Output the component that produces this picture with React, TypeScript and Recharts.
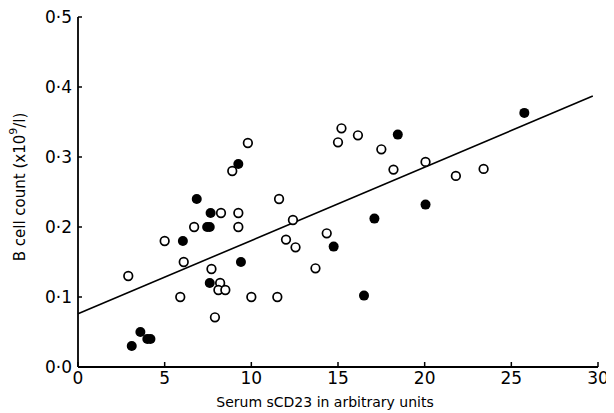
import { ComposedChart, Scatter, XAxis, YAxis, ReferenceLine } from "recharts";

// serum sCD23 (x) and B cell count (y), open circles
const openSCD23 = [2.9, 5.0, 6.1, 5.9, 6.7, 8.25, 9.25, 9.25, 8.9, 9.8, 7.7, 8.2, 8.1, 8.5, 7.9, 10.0, 11.5, 11.6, 12.4, 12.0, 12.55, 13.7, 14.35, 15.2, 15.0, 16.15, 17.5, 18.2, 20.05, 21.8, 23.4];
const openBCell = [0.13, 0.18, 0.15, 0.1, 0.2, 0.22, 0.22, 0.2, 0.28, 0.32, 0.14, 0.12, 0.11, 0.11, 0.071, 0.1, 0.1, 0.24, 0.21, 0.182, 0.171, 0.141, 0.191, 0.341, 0.321, 0.331, 0.311, 0.282, 0.293, 0.273, 0.283];

// filled circles
const filledSCD23 = [3.1, 3.6, 4.0, 4.18, 6.05, 6.85, 7.65, 7.45, 7.6, 9.25, 9.4, 7.6, 14.75, 17.1, 16.5, 18.45, 20.05, 25.75];
const filledBCell = [0.03, 0.05, 0.04, 0.04, 0.18, 0.24, 0.22, 0.2, 0.2, 0.29, 0.15, 0.12, 0.172, 0.212, 0.102, 0.332, 0.232, 0.363];

// regression line end points
const fitX = [0, 29.7];
const fitY = [0.076, 0.387];

const xTicks = [0, 5, 10, 15, 20, 25, 30];
const yTicks = [0, 0.1, 0.2, 0.3, 0.4, 0.5];

const openData = openSCD23.map((x, i) => ({ x, y: openBCell[i] }));
const filledData = filledSCD23.map((x, i) => ({ x, y: filledBCell[i] }));

const font = "DejaVu Sans";

const XTick = (props: any) => {
  const { x, y, payload } = props;
  return (
    <g>
      <line x1={x} y1={y} x2={x} y2={y - 5} stroke="#000" strokeWidth={1.5} />
      <text x={x} y={y + 17} textAnchor="middle" fontFamily={font} fontSize={17} fill="#000">
        {payload.value}
      </text>
    </g>
  );
};

const YTick = (props: any) => {
  const { x, y, payload } = props;
  return (
    <g>
      <line x1={x} y1={y} x2={x + 4} y2={y} stroke="#000" strokeWidth={1.5} />
      <text x={x - 6} y={y + 6} textAnchor="end" fontFamily={font} fontSize={17} fill="#000">
        {Number(payload.value).toFixed(1).replace(".", "·")}
      </text>
    </g>
  );
};

const OpenDot = (props: any) => (
  <circle cx={props.cx} cy={props.cy} r={4.3} fill="#fff" stroke="#000" strokeWidth={1.7} />
);
const FilledDot = (props: any) => (
  <circle cx={props.cx} cy={props.cy} r={5} fill="#000" />
);

export default function App() {
  return (
    <ComposedChart width={606} height={405} margin={{ top: 9, right: 16, bottom: 0, left: 0 }}>
      <XAxis
        type="number"
        dataKey="x"
        domain={[0, 30]}
        ticks={xTicks}
        height={46}
        tickSize={0}
        tickMargin={0}
        tickLine={false}
        tick={<XTick />}
        axisLine={{ stroke: "#000", strokeWidth: 1.8 }}
        label={{
          content: () => (
            <text x={317} y={399} textAnchor="middle" fontFamily={font} fontSize={14} fill="#000">
              Serum sCD23 in arbitrary units
            </text>
          ),
        }}
      />
      <YAxis
        type="number"
        dataKey="y"
        domain={[0, 0.5]}
        ticks={yTicks}
        width={70}
        tickSize={0}
        tickMargin={0}
        tickLine={false}
        tick={<YTick />}
        axisLine={{ stroke: "#000", strokeWidth: 1.8 }}
        label={{
          content: () => (
            <text
              x={12}
              y={179}
              transform="rotate(-90 12 179)"
              textAnchor="middle"
              dominantBaseline="middle"
              fontFamily={font}
              fontSize={15}
              fill="#000"
            >
              <tspan>B cell count (x10</tspan>
              <tspan dy={-6} fontSize={11}>9</tspan>
              <tspan dy={6}>/l)</tspan>
            </text>
          ),
        }}
      />
      <ReferenceLine
        segment={[
          { x: fitX[0], y: fitY[0] },
          { x: fitX[1], y: fitY[1] },
        ]}
        stroke="#000"
        strokeWidth={1.6}
      />
      <Scatter data={openData} shape={<OpenDot />} isAnimationActive={false} />
      <Scatter data={filledData} shape={<FilledDot />} isAnimationActive={false} />
    </ComposedChart>
  );
}
